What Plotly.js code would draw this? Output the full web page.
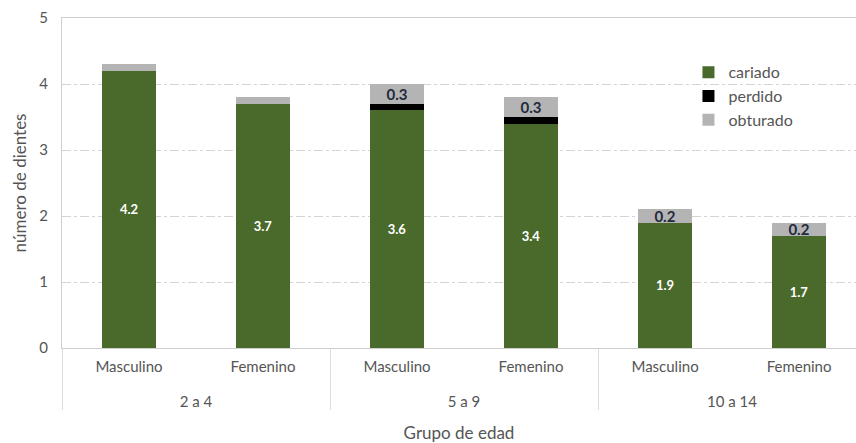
<!DOCTYPE html>
<html>
<head>
<meta charset="utf-8">
<script src="https://cdn.plot.ly/plotly-3.0.1.min.js"></script>
<style>html,body{margin:0;padding:0;background:#fff;}#chart{width:856px;height:443px;}</style>
</head>
<body>
<div id="chart"></div>
<script>
const grupos = ["2 a 4","2 a 4","5 a 9","5 a 9","10 a 14","10 a 14"];
const sexos = ["Masculino","Femenino","Masculino","Femenino","Masculino","Femenino"];
const cariado = [4.2, 3.7, 3.6, 3.4, 1.9, 1.7];
const perdido = [0, 0, 0.1, 0.1, 0, 0];
const obturado = [0.1, 0.1, 0.3, 0.3, 0.2, 0.2];
const yTicks = [0, 1, 2, 3, 4, 5];

// group labels get an empty first line so they sit lower, as in the original
const x = [grupos.map(g => '<br>' + g), sexos];
const common = {type: 'bar', x: x, width: 0.4, hoverinfo: 'skip'};

const traces = [
  Object.assign({}, common, {
    name: 'cariado', y: cariado,
    marker: {color: '#4a6a2c'},
    text: cariado.map(v => v.toFixed(1)),
    textposition: 'inside', insidetextanchor: 'middle', constraintext: 'none',
    textfont: {family: 'Lato, sans-serif', size: 13, color: '#ffffff', weight: 'bold'}
  }),
  Object.assign({}, common, {
    name: 'perdido', y: perdido,
    marker: {color: '#000000'},
    textposition: 'none'
  }),
  Object.assign({}, common, {
    name: 'obturado', y: obturado,
    marker: {color: '#b4b4b4'},
    text: obturado.map(v => v >= 0.2 ? v.toFixed(1) : ''),
    textposition: 'inside', insidetextanchor: 'middle', constraintext: 'none',
    textfont: {family: 'Lato, sans-serif', size: 15, color: '#1f2a3c', weight: 'bold'}
  })
];

const layout = {
  width: 856, height: 443,
  margin: {l: 62, r: 0, t: 18, b: 95},
  barmode: 'stack',
  paper_bgcolor: '#ffffff', plot_bgcolor: '#ffffff',
  font: {family: 'Lato, sans-serif', color: '#555555', size: 15},
  showlegend: true,
  legend: {
    x: 0.789, y: 0.887, xanchor: 'left', yanchor: 'top',
    traceorder: 'normal',
    font: {size: 16, color: '#555555'},
    bgcolor: 'rgba(0,0,0,0)', itemwidth: 30, tracegroupgap: 0
  },
  xaxis: {
    type: 'multicategory',
    range: [-0.5, 5.425],
    showline: true, mirror: true, linecolor: '#cfcfcf', linewidth: 1,
    showgrid: false,
    showdividers: true, dividercolor: '#dddddd', dividerwidth: 1,
    tickfont: {size: 15, color: '#555555'},
    ticks: '',
    ticklabelstandoff: 5,
    title: {text: 'Grupo de edad', font: {size: 17, color: '#555555'}, standoff: 18}
  },
  yaxis: {
    range: [0, 5],
    tickvals: yTicks,
    ticktext: yTicks.map(String),
    showline: true, linecolor: '#cfcfcf', linewidth: 1,
    showgrid: true, gridcolor: '#d4d4d4', griddash: 'dashdot', gridwidth: 1,
    zeroline: true, zerolinecolor: '#cfcfcf',
    tickfont: {size: 15, color: '#555555'},
    ticklen: 0,
    ticklabelstandoff: 10,
    title: {text: 'número de dientes', font: {size: 17, color: '#555555'}, standoff: 8}
  }
};

Plotly.newPlot('chart', traces, layout, {displayModeBar: false, staticPlot: true});
</script>
</body>
</html>
